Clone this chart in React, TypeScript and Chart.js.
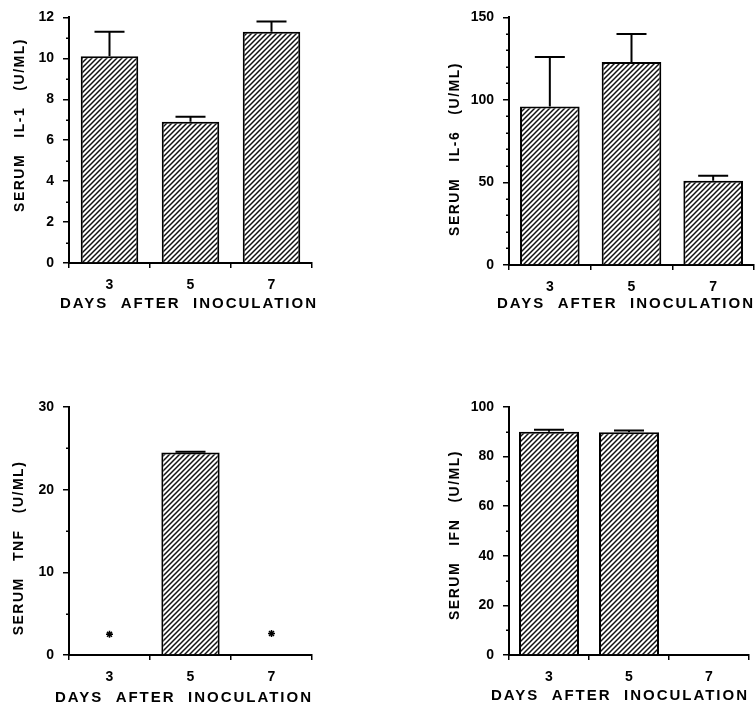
import React, { useEffect, useRef } from 'react';
import { Chart, registerables } from 'chart.js';

Chart.register(...registerables);

// ---------------- data ----------------
const days = ['3', '5', '7'];

const il1Values = [10.1, 6.9, 11.3];
const il1Errors = [1.2, 0.25, 0.5];

const il6Values = [96, 123, 51];
const il6Errors = [30, 17, 3];

const tnfValues = [null, 24.5, null];
const tnfErrors = [null, 0.1, null];
const tnfNotDetected = [2.5, null, 2.6]; // asterisks

const ifnValues = [90, 89.8, null];
const ifnErrors = [0.8, 0.7, null];

const xAxisTitle = 'DAYS  AFTER  INOCULATION';
const il1Title = 'SERUM   IL-1   (U/ML)';
const il6Title = 'SERUM   IL-6   (U/ML)';
const tnfTitle = 'SERUM   TNF   (U/ML)';
const ifnTitle = 'SERUM   IFN   (U/ML)';

// ---------------- styling helpers ----------------
const FONT = '"Liberation Sans", Arial, Helvetica, sans-serif';

function makeHatch(): CanvasPattern | string {
  const size = 5;
  const c = document.createElement('canvas');
  c.width = size;
  c.height = size;
  const g = c.getContext('2d');
  if (!g) return '#888';
  g.fillStyle = '#fff';
  g.fillRect(0, 0, size, size);
  g.strokeStyle = '#111';
  g.lineWidth = 1.5;
  g.beginPath();
  g.moveTo(0, size);
  g.lineTo(size, 0);
  g.moveTo(-1, 1);
  g.lineTo(1, -1);
  g.moveTo(size - 1, size + 1);
  g.lineTo(size + 1, size - 1);
  g.stroke();
  const p = g.createPattern(c, 'repeat');
  return p || '#888';
}

type PanelSpec = {
  left: number;
  top: number;
  width: number;
  height: number;
  chartLeft: number;
  chartTop: number;
  chartRight: number;
  chartBottom: number;
  values: (number | null)[];
  errors: (number | null)[];
  stars?: (number | null)[];
  max: number;
  step: number;
  major: number;
  yTitle: string;
  yTitleX: number;
  yTitleY: number;
  xTitle?: string;
  xTitleX: number;
  xTitleY: number;
  barPct: number;
};

const panels: PanelSpec[] = [
  {
    left: 0, top: 0, width: 378, height: 320,
    chartLeft: 69, chartTop: 17, chartRight: 312, chartBottom: 263,
    values: il1Values, errors: il1Errors,
    max: 12, step: 1, major: 2,
    yTitle: il1Title, yTitleX: 20, yTitleY: 125,
    xTitle: xAxisTitle, xTitleX: 189, xTitleY: 304,
    barPct: 0.71,
  },
  {
    left: 378, top: 0, width: 377, height: 320,
    chartLeft: 131, chartTop: 14, chartRight: 376, chartBottom: 265,
    values: il6Values, errors: il6Errors,
    max: 150, step: 10, major: 50,
    yTitle: il6Title, yTitleX: 77, yTitleY: 149,
    xTitle: xAxisTitle, xTitleX: 248, xTitleY: 304,
    barPct: 0.73,
  },
  {
    left: 0, top: 354, width: 378, height: 355,
    chartLeft: 69, chartTop: 53, chartRight: 312, chartBottom: 301,
    values: tnfValues, errors: tnfErrors, stars: tnfNotDetected,
    max: 30, step: 5, major: 10,
    yTitle: tnfTitle, yTitleX: 19, yTitleY: 194,
    xTitle: xAxisTitle, xTitleX: 184, xTitleY: 344,
    barPct: 0.72,
  },
  {
    left: 378, top: 354, width: 377, height: 355,
    chartLeft: 131, chartTop: 53, chartRight: 371, chartBottom: 301,
    values: ifnValues, errors: ifnErrors,
    max: 100, step: 10, major: 20,
    yTitle: ifnTitle, yTitleX: 77, yTitleY: 181,
    xTitle: xAxisTitle, xTitleX: 242, xTitleY: 342,
    barPct: 0.75,
  },
];

function Panel({ spec }: { spec: PanelSpec }) {
  const ref = useRef<HTMLCanvasElement | null>(null);

  useEffect(() => {
    const canvas = ref.current;
    if (!canvas) return;
    const hatch = makeHatch();
    const X_SCALE_H = 32;
    const isMajor = (v: number) => Math.abs(v % spec.major) < 1e-9;

    const errorBars = {
      id: 'errorBars',
      afterDatasetsDraw(chart: any) {
        const meta = chart.getDatasetMeta(0);
        const yScale = chart.scales.y;
        const ctx = chart.ctx;
        ctx.save();
        ctx.strokeStyle = '#000';
        ctx.lineWidth = 2;
        meta.data.forEach((el: any, i: number) => {
          const v = spec.values[i];
          const e = spec.errors[i];
          if (v == null || e == null) return;
          const yTop = yScale.getPixelForValue(v + e);
          const yBar = yScale.getPixelForValue(v);
          const cap = 15;
          ctx.beginPath();
          ctx.moveTo(el.x, yBar);
          ctx.lineTo(el.x, yTop);
          ctx.moveTo(el.x - cap, yTop);
          ctx.lineTo(el.x + cap, yTop);
          ctx.stroke();
        });
        ctx.restore();
      },
    };

    // short minor ticks on the value axis
    const minorTicks = {
      id: 'minorTicks',
      afterDraw(chart: any) {
        const yScale = chart.scales.y;
        const ctx = chart.ctx;
        const x0 = chart.chartArea.left;
        ctx.save();
        ctx.strokeStyle = '#000';
        ctx.lineWidth = 1.5;
        ctx.beginPath();
        yScale.ticks.forEach((t: any) => {
          if (isMajor(t.value)) return;
          const y = Math.round(yScale.getPixelForValue(t.value)) + 0.25;
          ctx.moveTo(x0 - 3, y);
          ctx.lineTo(x0, y);
        });
        ctx.stroke();
        ctx.restore();
      },
    };

    const axisTitles = {
      id: 'axisTitles',
      afterDraw(chart: any) {
        const ctx = chart.ctx;
        ctx.save();
        ctx.fillStyle = '#000';
        ctx.textAlign = 'center';
        ctx.textBaseline = 'middle';
        // y title
        ctx.font = `bold 14px ${FONT}`;
        (ctx as any).letterSpacing = '1.5px';
        ctx.save();
        ctx.translate(spec.yTitleX, spec.yTitleY);
        ctx.rotate(-Math.PI / 2);
        ctx.fillText(spec.yTitle, 0, 0);
        ctx.restore();
        // x title
        if (spec.xTitle) {
          ctx.font = `bold 15px ${FONT}`;
          (ctx as any).letterSpacing = '2px';
          ctx.fillText(spec.xTitle, spec.xTitleX, spec.xTitleY);
        }
        (ctx as any).letterSpacing = '0px';
        ctx.restore();
      },
    };

    const datasets: any[] = [
      {
        type: 'bar',
        data: spec.values,
        backgroundColor: hatch,
        borderColor: '#000',
        borderWidth: 2,
        barPercentage: spec.barPct,
        categoryPercentage: 1,
        order: 1,
      },
    ];
    if (spec.stars) {
      datasets.push({
        type: 'line',
        data: spec.stars,
        showLine: false,
        pointStyle: 'star',
        pointRadius: 3.5,
        borderColor: '#000',
        backgroundColor: '#000',
        borderWidth: 1.5,
        order: 0,
      });
    }

    const tickFont = { family: FONT, size: 14, weight: 'bold' as const };

    const chart = new Chart(canvas, {
      type: 'bar',
      data: { labels: days, datasets },
      options: {
        animation: false,
        responsive: false,
        maintainAspectRatio: false,
        events: [],
        layout: {
          padding: {
            left: 0,
            top: spec.chartTop,
            right: spec.width - spec.chartRight,
            bottom: spec.height - spec.chartBottom - X_SCALE_H,
          },
        },
        plugins: {
          legend: { display: false },
          tooltip: { enabled: false },
        },
        scales: {
          x: {
            type: 'category',
            offset: true,
            grid: {
              display: true,
              offset: true,
              drawOnChartArea: false,
              drawTicks: true,
              tickLength: 5,
              color: '#000',
              lineWidth: 1.5,
            },
            border: { display: true, color: '#000', width: 2 },
            ticks: {
              color: '#000',
              font: tickFont,
              padding: 9,
              maxRotation: 0,
              autoSkip: false,
            },
            afterFit: (s: any) => {
              s.height = X_SCALE_H;
            },
          },
          y: {
            min: 0,
            max: spec.max,
            grid: {
              display: true,
              drawOnChartArea: false,
              drawTicks: true,
              tickLength: 6,
              color: '#000',
              tickColor: (c: any) =>
                c.tick && isMajor(c.tick.value) ? '#000' : 'rgba(0,0,0,0)',
              lineWidth: 1.5,
            },
            border: { display: true, color: '#000', width: 2 },
            ticks: {
              stepSize: spec.step,
              autoSkip: false,
              color: '#000',
              font: tickFont,
              padding: 9,
              callback: (v: any) => (isMajor(Number(v)) ? String(v) : ''),
            },
            afterFit: (s: any) => {
              s.width = spec.chartLeft;
            },
          },
        },
      } as any,
      plugins: [errorBars, minorTicks, axisTitles],
    });

    return () => {
      chart.destroy();
    };
  }, [spec]);

  return (
    <canvas
      ref={ref}
      width={spec.width}
      height={spec.height}
      style={{
        position: 'absolute',
        left: spec.left,
        top: spec.top,
        width: spec.width,
        height: spec.height,
      }}
    />
  );
}

export default function App() {
  return (
    <div
      style={{
        position: 'absolute',
        left: 0,
        top: 0,
        width: 755,
        height: 709,
        background: '#fff',
        overflow: 'hidden',
      }}
    >
      {panels.map((p, i) => (
        <Panel key={i} spec={p} />
      ))}
    </div>
  );
}
